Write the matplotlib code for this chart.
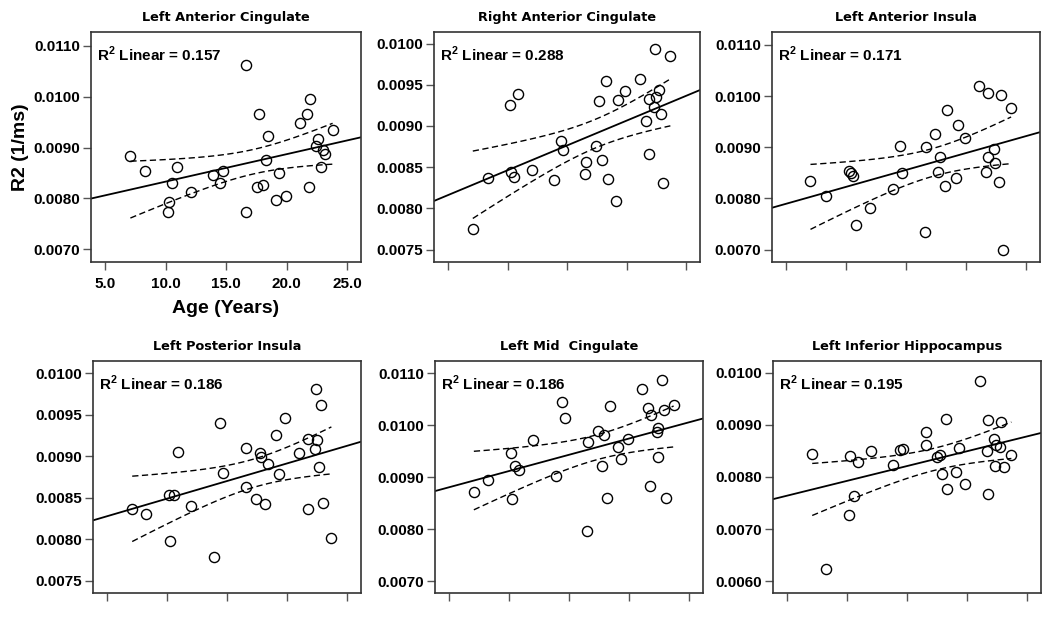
import numpy as np
import matplotlib
import matplotlib.pyplot as plt

matplotlib.use('Agg')

plt.rcParams['mathtext.fontset'] = 'custom'
plt.rcParams['mathtext.rm'] = 'Liberation Sans:bold'
plt.rcParams['mathtext.bf'] = 'Liberation Sans:bold'

# --- data (age in years, R2 in 1/ms) ---
titles = ["Left Anterior Cingulate", "Right Anterior Cingulate", "Left Anterior Insula",
          "Left Posterior Insula", "Left Mid  Cingulate", "Left Inferior Hippocampus"]
r2_labels = ["0.157", "0.288", "0.171", "0.186", "0.186", "0.195"]

age_lac = [7.06, 8.25, 10.89, 10.5, 10.28, 10.19, 12.05, 13.93, 14.49, 14.71, 16.65, 16.62,
           17.70, 17.53, 18.03, 18.28, 18.45, 19.36, 19.14, 19.97, 21.14, 21.69, 21.94, 21.88,
           22.58, 22.44, 23.02, 23.16, 22.83, 23.8]
r2_lac = [0.00884, 0.00854, 0.00862, 0.00830, 0.00793, 0.00773, 0.00813, 0.00846, 0.00831,
          0.00854, 0.01062, 0.00773, 0.00966, 0.00823, 0.00826, 0.00875, 0.00923, 0.00849,
          0.00797, 0.00805, 0.00948, 0.00966, 0.00996, 0.00823, 0.00917, 0.00902, 0.00896,
          0.00887, 0.00862, 0.00934]

age_rac = [7.06, 8.32, 10.16, 10.86, 10.27, 10.5, 12.03, 13.87, 14.43, 14.62, 16.6, 16.52,
           17.41, 17.89, 18.39, 19.11, 17.64, 18.25, 19.28, 19.87, 21.07, 21.85, 21.6, 21.85,
           22.27, 22.43, 22.71, 22.85, 22.35, 23.66, 23.02]
r2_rac = [0.007755, 0.008367, 0.00925, 0.009392, 0.008444, 0.008379, 0.008472, 0.008347,
          0.008817, 0.008707, 0.008558, 0.008416, 0.008752, 0.008582, 0.008359, 0.008092,
          0.009303, 0.009546, 0.009311, 0.009425, 0.009566, 0.008655, 0.009064, 0.009331,
          0.00923, 0.009356, 0.009441, 0.009141, 0.009939, 0.009846, 0.008306]

age_lai = [7.01, 8.29, 10.22, 10.36, 10.52, 10.8, 11.97, 13.9, 14.46, 14.62, 16.6, 16.63,
           17.41, 17.66, 17.83, 18.25, 18.39, 19.11, 19.28, 19.87, 21.07, 21.85, 22.91, 23.74,
           21.65, 21.82, 22.35, 22.41, 22.77, 23.05]
r2_lai = [0.008351, 0.008044, 0.008533, 0.008501, 0.008436, 0.007483, 0.007816, 0.008194,
          0.009023, 0.008501, 0.007339, 0.009003, 0.009264, 0.00852, 0.008814, 0.008253,
          0.009728, 0.008403, 0.009434, 0.009173, 0.010204, 0.010067, 0.010021, 0.009767,
          0.00852, 0.008814, 0.008958, 0.008684, 0.008318, 0.0070]

age_lpi = [7.07, 8.23, 10.85, 10.1, 10.52, 10.24, 12.0, 13.91, 14.43, 14.63, 16.59, 16.53,
           17.41, 17.69, 17.83, 18.16, 18.38, 19.07, 19.29, 19.84, 21.0, 21.77, 21.77, 22.3,
           22.46, 22.38, 22.82, 22.68, 23.01, 23.68]
r2_lpi = [0.008366, 0.008301, 0.009057, 0.008537, 0.008533, 0.007976, 0.008394, 0.007789,
          0.009398, 0.008801, 0.009106, 0.00863, 0.008488, 0.009045, 0.008992, 0.008423,
          0.008911, 0.009256, 0.008785, 0.009463, 0.009037, 0.009207, 0.008358, 0.009093,
          0.009199, 0.009813, 0.009622, 0.008874, 0.008439, 0.008008]

age_lmc = [7.04, 8.23, 10.14, 10.47, 10.83, 10.25, 11.99, 13.92, 14.42, 14.64, 16.57, 16.49,
           17.4, 17.87, 17.71, 18.18, 18.4, 19.09, 19.31, 19.89, 21.05, 21.6, 21.82, 21.74,
           22.38, 22.29, 22.43, 22.71, 22.87, 23.04, 23.7]
r2_lmc = [0.008718, 0.008942, 0.009474, 0.009212, 0.009141, 0.00859, 0.009724, 0.009026,
          0.010455, 0.010147, 0.00968, 0.007962, 0.009885, 0.009808, 0.009224, 0.008603,
          0.010372, 0.009577, 0.009346, 0.009731, 0.010692, 0.010333, 0.010199, 0.008827,
          0.009955, 0.009878, 0.009397, 0.010872, 0.010301, 0.008609, 0.010385]

age_lih = [7.07, 8.26, 10.24, 10.85, 10.52, 10.16, 12.01, 13.83, 14.43, 14.6, 16.56, 16.56,
           17.47, 17.69, 17.86, 18.19, 18.35, 19.07, 19.29, 19.84, 21.08, 21.61, 21.77, 21.77,
           22.24, 22.32, 22.43, 22.71, 22.82, 23.04, 23.68]
r2_lih = [0.008451, 0.006224, 0.0084, 0.008285, 0.007626, 0.007274, 0.008502, 0.008234,
          0.008515, 0.008541, 0.008867, 0.008611, 0.008381, 0.008426, 0.008067, 0.009117,
          0.00776, 0.008099, 0.00856, 0.007862, 0.00984, 0.008496, 0.009091, 0.00767,
          0.008739, 0.008221, 0.008611, 0.008579, 0.009066, 0.008195, 0.008432]

ages = [age_lac, age_rac, age_lai, age_lpi, age_lmc, age_lih]
values = [r2_lac, r2_rac, r2_lai, r2_lpi, r2_lmc, r2_lih]

# y axis settings per panel
ylims = [(0.00675, 0.01127), (0.00735, 0.01014), (0.00676, 0.01125),
         (0.00735, 0.01015), (0.00677, 0.01124), (0.00577, 0.01023)]
yticks = [np.arange(0.0070, 0.01101, 0.001), np.arange(0.0075, 0.01001, 0.0005),
          np.arange(0.0070, 0.01101, 0.001), np.arange(0.0075, 0.01001, 0.0005),
          np.arange(0.0070, 0.01101, 0.001), np.arange(0.0060, 0.01001, 0.001)]

# axes boxes in pixels: left, top, width, height
boxes = [(91, 32, 270, 230), (434, 32, 266, 230), (772, 32, 268, 230),
         (93, 361, 268, 232), (435, 361, 268, 232), (773, 361, 268, 232)]

T_CRIT = 2.048  # 95% two-sided, ~28 df
W, H = 1050, 621

fig = plt.figure(figsize=(10.5, 6.21), dpi=100)
fig.patch.set_facecolor('white')

for i in range(6):
    l, t, w, h = boxes[i]
    ax = fig.add_axes([l / W, 1 - (t + h) / H, w / W, h / H])
    x = np.array(ages[i])
    y = np.array(values[i])

    ax.plot(x, y, 'o', mfc='none', mec='black', ms=7.3, mew=1.0, zorder=3)

    # linear fit and 95% mean confidence band
    b, a = np.polyfit(x, y, 1)
    xs = np.linspace(3.8, 26.15, 100)
    ax.plot(xs, a + b * xs, color='black', lw=1.3, zorder=2)

    n = len(x)
    resid = y - (a + b * x)
    s = np.sqrt(np.sum(resid ** 2) / (n - 2))
    sxx = np.sum((x - x.mean()) ** 2)
    xb = np.linspace(x.min(), x.max(), 100)
    half = T_CRIT * s * np.sqrt(1.0 / n + (xb - x.mean()) ** 2 / sxx)
    fit_b = a + b * xb
    ax.plot(xb, fit_b + half, color='black', lw=1.0, ls=(0, (4.5, 2.5)), zorder=2)
    ax.plot(xb, fit_b - half, color='black', lw=1.0, ls=(0, (4.5, 2.5)), zorder=2)

    ax.set_xlim(3.8, 26.15)
    ax.set_ylim(*ylims[i])
    ax.set_xticks([5, 10, 15, 20, 25])
    ax.set_yticks(yticks[i])
    ax.set_yticklabels([f"{v:.4f}" for v in yticks[i]], fontfamily='Liberation Sans',
                       fontweight='bold', fontsize=11)
    if i == 0:
        ax.set_xticklabels([f"{v:.1f}" for v in [5, 10, 15, 20, 25]],
                           fontfamily='Liberation Sans', fontweight='bold', fontsize=11)
        ax.set_xlabel("Age (Years)", fontfamily='Liberation Sans', fontweight='bold',
                      fontsize=14, labelpad=6)
        ax.set_ylabel("R2 (1/ms)", fontfamily='Liberation Sans', fontweight='bold',
                      fontsize=14, labelpad=3)
    else:
        ax.set_xticklabels([])

    ax.tick_params(direction='out', length=6, width=1, color='#555555', pad=2)
    ax.tick_params(axis='x', pad=5)
    for sp in ax.spines.values():
        sp.set_color('#333333')
        sp.set_linewidth(1.2)

    ax.set_title(titles[i], fontfamily='DejaVu Sans', fontweight='bold', fontsize=9.3, pad=8)
    ax.annotate(r"R$^{2}$ Linear = " + r2_labels[i], xy=(0, 1), xycoords='axes fraction',
                xytext=(4.5, -9.5), textcoords='offset points', ha='left', va='top',
                fontfamily='Liberation Sans', fontweight='bold', fontsize=11)

fig.savefig('out.png', dpi=100, facecolor='white')
